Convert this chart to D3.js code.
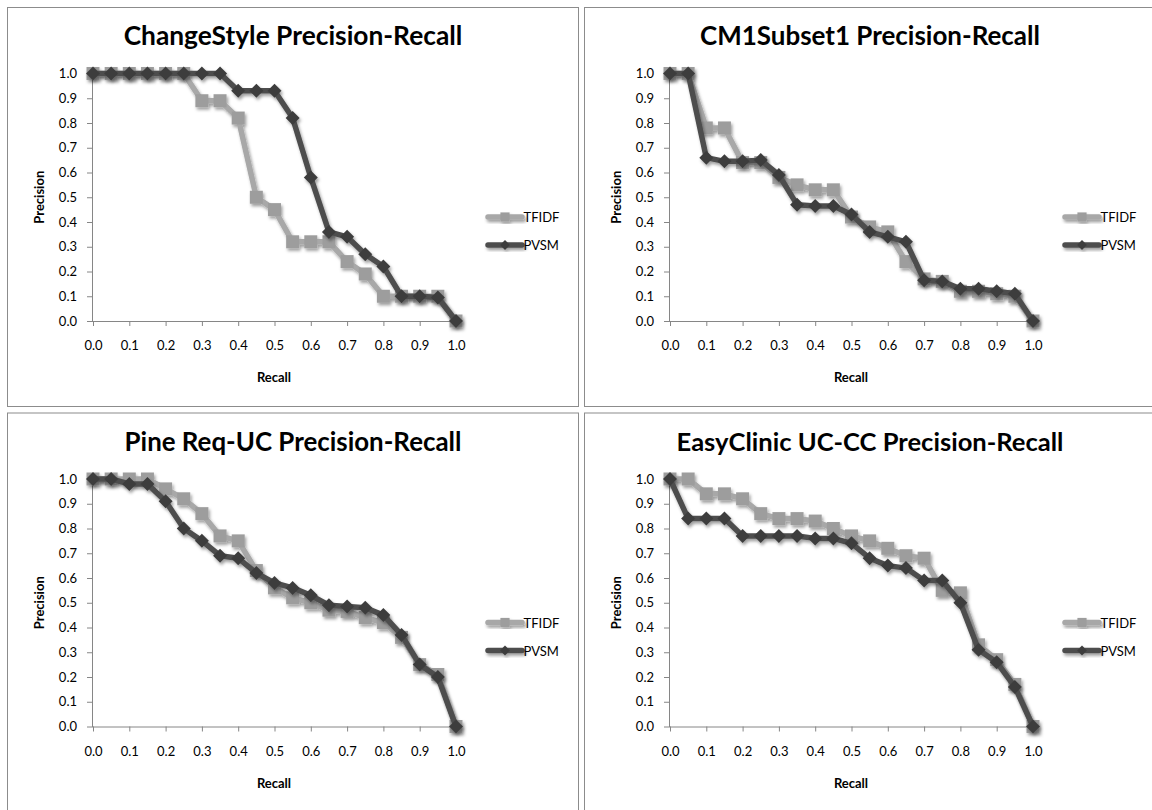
<!DOCTYPE html>
<html>
<head>
<meta charset="utf-8">
<script src="https://cdn.jsdelivr.net/npm/d3@7"></script>
<style>
  body { margin: 0; background: #fff; }
  svg { display: block; font-family: Lato, "Open Sans", sans-serif; }
</style>
</head>
<body>
<svg id="chart" width="1152" height="810"></svg>
<script>
// Recall levels (categories) and axis tick labels
const recall = [0.00, 0.05, 0.10, 0.15, 0.20, 0.25, 0.30, 0.35, 0.40, 0.45, 0.50,
                0.55, 0.60, 0.65, 0.70, 0.75, 0.80, 0.85, 0.90, 0.95, 1.00];
const xTickValues = [0.0, 0.1, 0.2, 0.3, 0.4, 0.5, 0.6, 0.7, 0.8, 0.9, 1.0];
const yTickValues = [0.0, 0.1, 0.2, 0.3, 0.4, 0.5, 0.6, 0.7, 0.8, 0.9, 1.0];
const seriesNames = ["TFIDF", "PVSM"];
const panelTitles = [
  "ChangeStyle Precision-Recall",
  "CM1Subset1 Precision-Recall",
  "Pine Req-UC Precision-Recall",
  "EasyClinic UC-CC Precision-Recall"
];

// Precision at each recall level
const changeStyleTFIDF = [1.00, 1.00, 1.00, 1.00, 1.00, 1.00, 0.89, 0.89, 0.82, 0.50, 0.45,
                          0.32, 0.32, 0.32, 0.24, 0.19, 0.10, 0.10, 0.10, 0.10, 0.00];
const changeStylePVSM  = [1.00, 1.00, 1.00, 1.00, 1.00, 1.00, 1.00, 1.00, 0.93, 0.93, 0.93,
                          0.82, 0.58, 0.36, 0.34, 0.27, 0.22, 0.10, 0.10, 0.095, 0.00];

const cm1TFIDF = [1.00, 1.00, 0.78, 0.78, 0.64, 0.64, 0.58, 0.55, 0.53, 0.53, 0.42,
                  0.38, 0.36, 0.24, 0.17, 0.16, 0.12, 0.12, 0.11, 0.10, 0.00];
const cm1PVSM  = [1.00, 1.00, 0.66, 0.645, 0.645, 0.65, 0.59, 0.47, 0.465, 0.465, 0.43,
                  0.36, 0.34, 0.32, 0.165, 0.16, 0.13, 0.13, 0.12, 0.11, 0.00];

const pineTFIDF = [1.00, 1.00, 1.00, 1.00, 0.96, 0.92, 0.86, 0.77, 0.75, 0.63, 0.56,
                   0.52, 0.50, 0.47, 0.465, 0.44, 0.42, 0.36, 0.25, 0.21, 0.00];
const pinePVSM  = [1.00, 1.00, 0.98, 0.98, 0.91, 0.80, 0.75, 0.69, 0.68, 0.62, 0.58,
                   0.56, 0.53, 0.49, 0.485, 0.48, 0.45, 0.37, 0.25, 0.20, 0.00];

const easyClinicTFIDF = [1.00, 1.00, 0.94, 0.94, 0.92, 0.86, 0.84, 0.84, 0.83, 0.80, 0.77,
                         0.75, 0.72, 0.69, 0.68, 0.55, 0.54, 0.33, 0.27, 0.17, 0.00];
const easyClinicPVSM  = [1.00, 0.84, 0.84, 0.84, 0.77, 0.77, 0.77, 0.77, 0.76, 0.76, 0.74,
                         0.68, 0.65, 0.64, 0.59, 0.59, 0.50, 0.31, 0.26, 0.16, 0.00];

const panels = [
  { title: panelTitles[0], tfidf: changeStyleTFIDF, pvsm: changeStylePVSM },
  { title: panelTitles[1], tfidf: cm1TFIDF,         pvsm: cm1PVSM },
  { title: panelTitles[2], tfidf: pineTFIDF,        pvsm: pinePVSM },
  { title: panelTitles[3], tfidf: easyClinicTFIDF,  pvsm: easyClinicPVSM }
];

// Layout of the 2x2 grid of chart boxes
const origins = [[7, 7], [584, 7], [7, 412.5], [584, 412.5]];
const titleWidths = [339, 340, 337, 387];
const boxW = 572, boxH = 400;

const svg = d3.select("#chart");

const defs = svg.append("defs");
const f = defs.append("filter").attr("id", "shadow")
  .attr("x", "-10%").attr("y", "-10%").attr("width", "130%").attr("height", "130%");
f.append("feDropShadow").attr("dx", 1.5).attr("dy", 2.5).attr("stdDeviation", 1.6)
  .attr("flood-color", "#000").attr("flood-opacity", 0.38);

const styles = {
  TFIDF: { line: "#a8a8a8", marker: "#9d9d9d", shape: "square" },
  PVSM:  { line: "#4d4d4d", marker: "#3e3e3e", shape: "diamond" }
};

const x = d3.scaleLinear().domain([0, 1]).range([86, 449]);
const y = d3.scaleLinear().domain([0, 1]).range([314, 66.5]);
const fmt = d3.format(".1f");

const markerPath = (shape, scale) => {
  if (shape === "square") return d3.symbol().type(d3.symbolSquare).size(169 * scale)();
  return d3.symbol().type(d3.symbolSquare).size(98 * scale)();
};

panels.forEach((p, k) => {
  const [ox, oy] = origins[k];
  const g = svg.append("g").attr("transform", `translate(${ox},${oy})`);

  g.append("rect")
    .attr("x", 0.5).attr("y", 0.5).attr("width", boxW - 1).attr("height", boxH - 1)
    .attr("fill", "#fff").attr("stroke", "#8c8c8c").attr("stroke-width", 1);

  // Title, sized to its box width
  const t = g.append("text")
    .attr("x", boxW / 2).attr("y", 38)
    .attr("text-anchor", "middle")
    .attr("font-weight", 700).attr("font-size", 24)
    .attr("fill", "#000")
    .text(p.title);
  const w = t.node().getComputedTextLength();
  t.attr("font-size", 24 * titleWidths[k] / w);

  // Axes
  const yAxis = d3.axisLeft(y).tickValues(yTickValues).tickFormat(fmt).tickSize(6).tickPadding(10);
  const xAxis = d3.axisBottom(x).tickValues(xTickValues).tickFormat(fmt).tickSize(5).tickPadding(15);

  const ya = g.append("g").attr("transform", `translate(${x(0)},0)`).call(yAxis);
  const xa = g.append("g").attr("transform", `translate(0,${y(0)})`).call(xAxis);
  [ya, xa].forEach(a => {
    a.select(".domain").attr("stroke", "#868686");
    a.selectAll(".tick line").attr("stroke", "#868686");
    a.selectAll(".tick text").attr("fill", "#000").attr("font-size", 13)
      .attr("font-family", "Lato, 'Open Sans', sans-serif");
  });
  ya.select(".domain").attr("d", `M-0.5,${y(1) - 0.5}V${y(0) + 0.5}`);
  xa.select(".domain").attr("d", `M${x(0)},0.5H${x(1)}`);

  g.append("text")
    .attr("transform", `translate(32,${(y(0) + y(1)) / 2}) rotate(-90)`)
    .attr("text-anchor", "middle").attr("dominant-baseline", "central")
    .attr("font-weight", 700).attr("font-size", 13).text("Precision");

  g.append("text")
    .attr("x", 267).attr("y", 370)
    .attr("text-anchor", "middle").attr("dominant-baseline", "central")
    .attr("font-weight", 700).attr("font-size", 13).text("Recall");

  // Series
  const line = d3.line().x(d => x(d[0])).y(d => y(d[1]));
  [["TFIDF", p.tfidf], ["PVSM", p.pvsm]].forEach(([name, vals]) => {
    const st = styles[name];
    const pts = recall.map((r, i) => [r, vals[i]]);
    const sg = g.append("g").attr("filter", "url(#shadow)");
    sg.append("path").datum(pts)
      .attr("d", line)
      .attr("fill", "none").attr("stroke", st.line)
      .attr("stroke-width", 5.5).attr("stroke-linejoin", "round");
    sg.selectAll("path.m").data(pts).join("path").attr("class", "m")
      .attr("d", markerPath(st.shape, 1))
      .attr("transform", d => `translate(${x(d[0])},${y(d[1])})${st.shape === "diamond" ? " rotate(45)" : ""}`)
      .attr("fill", st.marker);
  });

  // Legend
  const legY = [210, 238];
  seriesNames.forEach((name, i) => {
    const st = styles[name];
    const lg = g.append("g").attr("transform", `translate(0,${legY[i]})`);
    const lgs = lg.append("g").attr("filter", "url(#shadow)");
    lgs.append("line").attr("x1", 481).attr("x2", 515).attr("y1", 0).attr("y2", 0)
      .attr("stroke", st.line).attr("stroke-width", 5.5).attr("stroke-linecap", "round");
    lgs.append("path").attr("d", markerPath(st.shape, 0.5))
      .attr("transform", `translate(498,0)${st.shape === "diamond" ? " rotate(45)" : ""}`)
      .attr("fill", st.marker);
    lg.append("text").attr("x", 516.5).attr("y", 0)
      .attr("dominant-baseline", "central").attr("font-size", 13)
      .attr("fill", "#000").text(name);
  });
});
</script>
</body>
</html>
